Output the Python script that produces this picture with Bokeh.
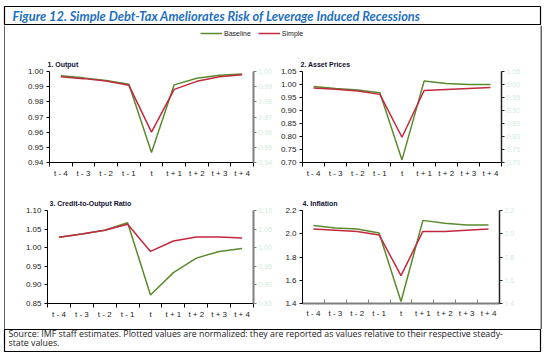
from bokeh.plotting import figure
from bokeh.layouts import column, row
from bokeh.models import (Range1d, FixedTicker, LinearAxis, NumeralTickFormatter,
                          Label, Legend, LegendItem)
from bokeh.embed import file_html
from bokeh.resources import INLINE

# ---------------- data ----------------
periods = ["t - 4", "t - 3", "t - 2", "t - 1", "t", "t + 1", "t + 2", "t + 3", "t + 4"]

output_baseline = [0.9972, 0.9958, 0.9940, 0.9916, 0.9466, 0.9912, 0.9955, 0.9975, 0.9983]
output_simple = [0.9966, 0.9953, 0.9938, 0.9910, 0.9600, 0.9882, 0.9935, 0.9965, 0.9979]

asset_baseline = [0.992, 0.985, 0.979, 0.968, 0.710, 1.013, 1.004, 1.000, 1.000]
asset_simple = [0.987, 0.982, 0.975, 0.962, 0.797, 0.977, 0.981, 0.985, 0.988]

credit_baseline = [1.028, 1.037, 1.047, 1.067, 0.873, 0.933, 0.972, 0.990, 0.998]
credit_simple = [1.028, 1.037, 1.047, 1.063, 0.990, 1.018, 1.029, 1.029, 1.026]

inflation_baseline = [2.07, 2.05, 2.04, 2.006, 1.417, 2.115, 2.09, 2.075, 2.075]
inflation_simple = [2.04, 2.03, 2.02, 1.99, 1.64, 2.02, 2.02, 2.03, 2.04]

series_names = ["Baseline", "Simple"]
panel_titles = ["1. Output", "2. Asset Prices", "3. Credit-to-Output Ratio", "4. Inflation"]

output_ticks = [0.94, 0.95, 0.96, 0.97, 0.98, 0.99, 1.00]
asset_ticks = [0.70, 0.75, 0.80, 0.85, 0.90, 0.95, 1.00, 1.05]
credit_ticks = [0.85, 0.90, 0.95, 1.00, 1.05, 1.10]
inflation_ticks = [1.4, 1.6, 1.8, 2.0, 2.2]

fig_title = "Figure 12. Simple Debt-Tax Ameliorates Risk of Leverage Induced Recessions"
source_lines = ["Source: IMF staff estimates. Plotted values are normalized: they are reported as values relative to their respective steady-",
                "state values."]

GREEN = "#5a8a2e"
RED = "#c3283f"
TITLE_BLUE = "#1f6fc0"
PALE = "#d2ecdc"
SANS = "Liberation Sans"

xs = [i + 1 for i in range(len(periods))]


def panel(width, height, borders, title, title_dx, base, simple, ticks, fmt,
          x_axis_style, right_style, bottom_tick_in=False):
    bl, br, bt, bb = borders
    p = figure(width=width, height=height, output_backend="svg", toolbar_location=None,
               x_range=Range1d(0.5, len(periods) + 0.5),
               y_range=Range1d(ticks[0], ticks[-1]),
               min_border_left=bl, min_border_right=br, min_border_top=bt, min_border_bottom=bb)
    p.outline_line_color = None
    p.grid.visible = False
    p.background_fill_color = "white"
    p.border_fill_color = "white"

    p.title.text = title
    p.title.align = "left"
    p.title.offset = title_dx
    p.title.standoff = 8
    p.title.text_font = SANS
    p.title.text_font_size = "7px"
    p.title.text_font_style = "bold"
    p.title.text_color = "#101030"

    p.line(xs, base, line_color=GREEN, line_width=1.5)
    p.line(xs, simple, line_color=RED, line_width=1.5)

    # x axis: labels at category centres, tick marks between categories
    xa = p.xaxis[0]
    xa.ticker = FixedTicker(ticks=xs, minor_ticks=[x - 0.5 for x in xs] + [xs[-1] + 0.5])
    xa.major_label_overrides = {x: lab for x, lab in zip(xs, periods)}
    xa.major_tick_in = 0
    xa.major_tick_out = 0
    if bottom_tick_in:
        xa.minor_tick_in = 4
        xa.minor_tick_out = 0
        xa.major_label_standoff = 5
    else:
        xa.minor_tick_in = 0
        xa.minor_tick_out = 4
        xa.major_label_standoff = 2
    xa.major_label_text_font = SANS
    xa.major_label_text_font_size = "8px"
    xa.major_label_text_color = "#222222"
    xa.axis_line_color = x_axis_style[0]
    xa.axis_line_width = x_axis_style[1]
    xa.minor_tick_line_color = x_axis_style[0]
    xa.minor_tick_line_width = 1

    ya = p.yaxis[0]
    ya.ticker = FixedTicker(ticks=ticks)
    ya.formatter = NumeralTickFormatter(format=fmt)
    ya.minor_tick_line_color = None
    ya.major_tick_in = 0
    ya.major_tick_out = 3
    ya.major_label_standoff = 3
    ya.major_label_text_font = SANS
    ya.major_label_text_font_size = "8px"
    ya.major_label_text_color = "#222222"
    ya.axis_line_color = "black"
    ya.major_tick_line_color = "black"

    ra = LinearAxis(ticker=FixedTicker(ticks=ticks), formatter=NumeralTickFormatter(format=fmt))
    ra.minor_tick_line_color = None
    ra.major_tick_in = 0
    ra.major_tick_out = 3
    ra.major_label_standoff = 2
    ra.major_label_text_font = SANS
    ra.major_label_text_font_size = "7px"
    ra.major_label_text_color = PALE
    ra.axis_line_color = right_style[0]
    ra.axis_line_width = right_style[1]
    ra.major_tick_line_color = right_style[0]
    p.add_layout(ra, "right")
    return p


BLACK1 = ("black", 1)
GRAY2 = ("#7f7f7f", 2)

p1 = panel(270, 140, (44, 21, 24, 23), panel_titles[0], -2, output_baseline, output_simple,
           output_ticks, "0.00", BLACK1, GRAY2)
p2 = panel(265, 140, (27, 39, 26, 23), panel_titles[1], -2, asset_baseline, asset_simple,
           asset_ticks, "0.00", BLACK1, ("#222222", 1.5))
p3 = panel(270, 144, (42, 21, 25, 26), panel_titles[2], 2, credit_baseline, credit_simple,
           credit_ticks, "0.00", BLACK1, GRAY2)
p4 = panel(265, 144, (27, 41, 25, 26), panel_titles[3], 0, inflation_baseline, inflation_simple,
           inflation_ticks, "0.0", GRAY2, ("#222222", 1.5), bottom_tick_in=True)


def blank(width, height, xr, yr, bl=0, br=0, bt=0, bb=0):
    f = figure(width=width, height=height, output_backend="svg", toolbar_location=None,
               x_range=xr, y_range=yr, x_axis_location=None, y_axis_location=None,
               min_border_left=bl, min_border_right=br, min_border_top=bt, min_border_bottom=bb)
    f.grid.visible = False
    f.outline_line_color = None
    f.border_fill_color = "white"
    f.background_fill_color = "white"
    return f


# title box
top = blank(545, 25, Range1d(0, 536), Range1d(19, 0), bl=4, br=5, bt=6, bb=0)
top.outline_line_color = "black"
top.outline_line_width = 1.2
top.add_layout(Label(x=8, y=9.5, text=fig_title, text_baseline="middle",
                     text_font="Lato", text_font_size="12.8px", text_font_style="bold italic",
                     text_color=TITLE_BLUE))

# legend strip (legend renderers carry the panel-1 series but are hidden)
leg = blank(535, 20, Range1d(0, 1), Range1d(0, 1))
r_base = leg.line(xs, output_baseline, line_color=GREEN, line_width=1.5, visible=False)
r_simp = leg.line(xs, output_simple, line_color=RED, line_width=1.5, visible=False)
legend = Legend(items=[LegendItem(label=series_names[0], renderers=[r_base]),
                       LegendItem(label=series_names[1], renderers=[r_simp])],
                orientation="horizontal", location=(195, 7), padding=0, margin=0,
                glyph_width=22, glyph_height=10, label_height=10, label_standoff=2,
                spacing=7, border_line_color=None, background_fill_alpha=0,
                label_text_font=SANS, label_text_font_size="7px", label_text_color="#222222")
leg.add_layout(legend)

# side borders of the chart box
left_strip = blank(5, 304, Range1d(0, 5), Range1d(0, 1))
left_strip.segment(x0=[4.5], y0=[0], x1=[4.5], y1=[1], line_color="black", line_width=1.2)
right_strip = blank(5, 304, Range1d(0, 5), Range1d(0, 1))
right_strip.segment(x0=[0.5], y0=[0], x1=[0.5], y1=[1], line_color="black", line_width=1.2)

# footer box
foot = blank(545, 27, Range1d(0, 536), Range1d(22, 0), bl=4, br=5, bt=0, bb=5)
foot.outline_line_color = "black"
foot.outline_line_width = 1.2
for i, line in enumerate(source_lines):
    foot.add_layout(Label(x=4, y=4.5 + 8.5 * i, text=line, text_baseline="middle",
                          text_font="Open Sans", text_font_size="8.8px", text_color="#222222"))

middle = row(left_strip, column(leg, row(p1, p2), row(p3, p4)), right_strip)
page = column(top, middle, foot)

open("out.html", "w").write(file_html(page, INLINE))
